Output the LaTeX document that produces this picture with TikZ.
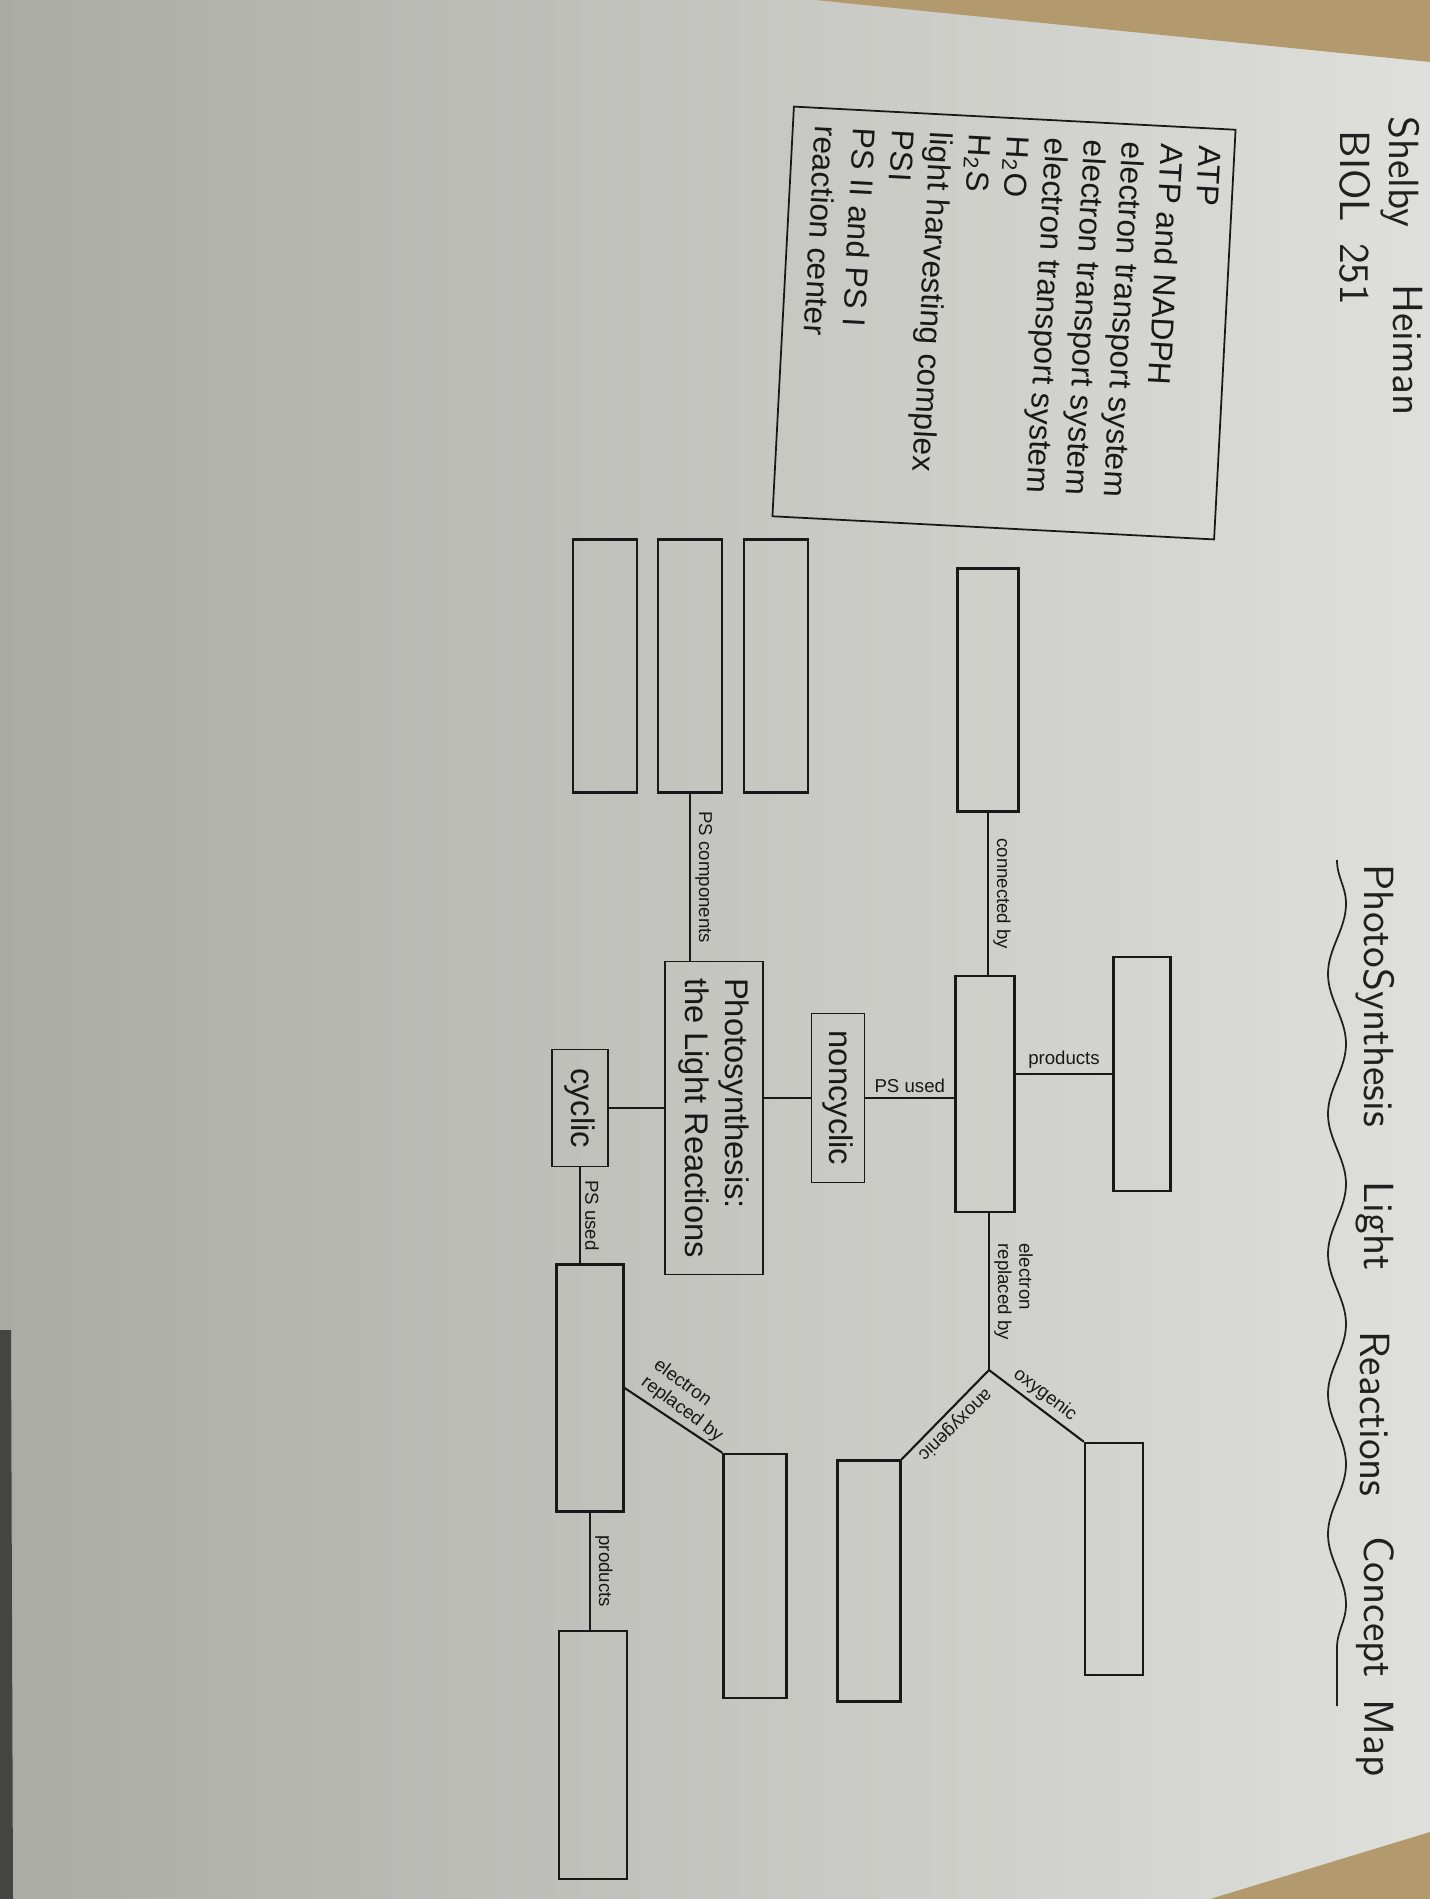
\documentclass[tikz,border=0pt]{standalone}
\usepackage{fontspec}
\setmainfont{Liberation Sans}
\usetikzlibrary{decorations.pathmorphing}
\definecolor{cpaper}{HTML}{DFDFDB}
\definecolor{cshade}{HTML}{ABABA6}
\definecolor{ccounter}{HTML}{B39A6E}
\definecolor{cink}{HTML}{181818}
\definecolor{cpen}{HTML}{202020}
\tikzset{
  every picture/.style={line width=0.55pt},
  blank/.style 2 args={draw=cink, line width=0.65pt, minimum width=#1, minimum height=#2, inner sep=0pt},
  term/.style={draw=cink, line width=0.4pt, text=cink, font=\fontsize{9.3}{11.3}\selectfont, inner sep=0pt},
  lbl/.style={text=cink, font=\fontsize{5.3}{6}\selectfont, inner sep=1.2pt},
  link/.style={draw=cink, line width=0.6pt},
  hand/.style={text=cpen, font=\sffamily\fontsize{12}{14}\selectfont},
}

\begin{document}
\begin{tikzpicture}[x=0.01cm, y=0.01cm]
  \useasboundingbox (0,0) rectangle (1430,-1899);
  % photo: paper, counter top in two corners
  \shade[left color=cshade, right color=cpaper] (0,0) rectangle (1430,-1899);
  \fill[ccounter] (815,0) -- (1430,0) -- (1430,-62) -- cycle;
  \fill[ccounter] (1210,-1899) -- (1430,-1899) -- (1430,-1832) -- cycle;
  \fill[cshade!40!black] (0,-1330) -- (11,-1330) -- (13,-1899) -- (0,-1899) -- cycle;
  % the sheet lies turned: draw it upright, then turn it
  \begin{scope}[rotate=-90, transform shape]
  % word bank (a little skewed in the photo)
  \begin{scope}[rotate around={-3:(323,1004)}]
  \node[draw=cink, line width=0.5pt, minimum width=4.10cm, minimum height=4.42cm, inner sep=0pt] (bank) at (323,1004) {};
  \node[anchor=north west, align=left, text=cink, inner sep=0pt, font=\fontsize{9}{10.95}\selectfont] (words) at (135,1213)
    {ATP\\ATP and NADPH\\electron transport system\\electron transport system\\electron transport system\\H\textsubscript{2}O\\H\textsubscript{2}S\\light harvesting complex\\PSI\\PS II and PS I\\reaction center};
  \end{scope}
  % PS components
  \foreach \v/\n in {776/1,690/2,605/3}
    \node[blank={2.53cm}{0.64cm}] (comp\n) at (666,\v) {};
  % main terms
  \node[term, minimum width=3.13cm, minimum height=0.98cm, align=left] (photo) at (1118,714) {Photosynthesis:\\the Light Reactions};
  \node[term, minimum width=1.69cm, minimum height=0.53cm] (noncyc) at (1098,838) {noncyclic};
  \node[term, minimum width=1.17cm, minimum height=0.56cm] (cyc) at (1108,580) {cyclic};
  % empty boxes
  \node[blank={2.36cm}{0.59cm}] (psnon) at (1094,985) {};
  \node[blank={2.43cm}{0.61cm}] (carrier) at (690,988) {};
  \node[blank={2.34cm}{0.57cm}] (prodnon) at (1074,1142) {};
  \node[blank={2.32cm}{0.58cm}] (oxy) at (1559,1114) {};
  \node[blank={2.41cm}{0.63cm}] (anoxy) at (1581,869) {};
  \node[blank={2.47cm}{0.67cm}] (pscyc) at (1388,590) {};
  \node[blank={2.44cm}{0.63cm}] (ecyc) at (1576,755) {};
  \node[blank={2.48cm}{0.68cm}] (prodcyc) at (1755,593) {};
  \coordinate (fork) at (1370,989);
  % links
  \draw[link] (comp2.east) -- (comp2.east -| photo.west) node[lbl, midway, above] {PS components};
  \draw[link] (noncyc |- photo.north) -- (noncyc.south);
  \draw[link] (cyc |- photo.south) -- (cyc.north);
  \draw[link] (noncyc.north) -- (noncyc.north |- psnon.south) node[lbl, midway, rotate=90, anchor=south] {PS used};
  \draw[link] (carrier.east) -- (carrier.east -| psnon.west) node[lbl, midway, above] {connected by};
  \draw[link] (prodnon.south) -- (prodnon.south |- psnon.north) node[lbl, midway, rotate=90, anchor=south] {products};
  \draw[link] (fork -| psnon.east) -- (fork) node[lbl, midway, above, align=left] {electron\\replaced by};
  \draw[link] (fork) -- (oxy.south west) node[lbl, midway, rotate=52.7, anchor=south] {oxygenic};
  \draw[link] (fork) -- (anoxy.north west) node[lbl, midway, rotate=-46, anchor=south] {anoxygenic};
  \draw[link] (cyc.east) -- (cyc.east -| pscyc.west) node[lbl, midway, above] {PS used};
  \draw[link] (pscyc.north) -- (ecyc.south west) node[lbl, midway, rotate=53.4, anchor=south, align=left] {electron\\replaced by};
  \draw[link] (pscyc.east) -- (pscyc.east -| prodcyc.west) node[lbl, midway, above] {products};
  % handwriting
  \node[hand] (first) at (172,1400) {Shelby};
  \node[hand] (last) at (350,1408) {Heiman};
  \node[hand] (course) at (218,1355) {BIOL\enspace 251};
  \foreach \u/\w [count=\k] in {996/PhotoSynthesis, 1226/Light, 1414/Reactions, 1607/Concept, 1738/Map}
    \node[hand] (title\k) at (\u,1375) {\w};
  \draw[cpen, line width=0.5pt, decorate, decoration={snake, segment length=1.4cm, amplitude=0.09cm}] (860,1337) -- (1706,1337);
  \end{scope}
\end{tikzpicture}
\end{document}
